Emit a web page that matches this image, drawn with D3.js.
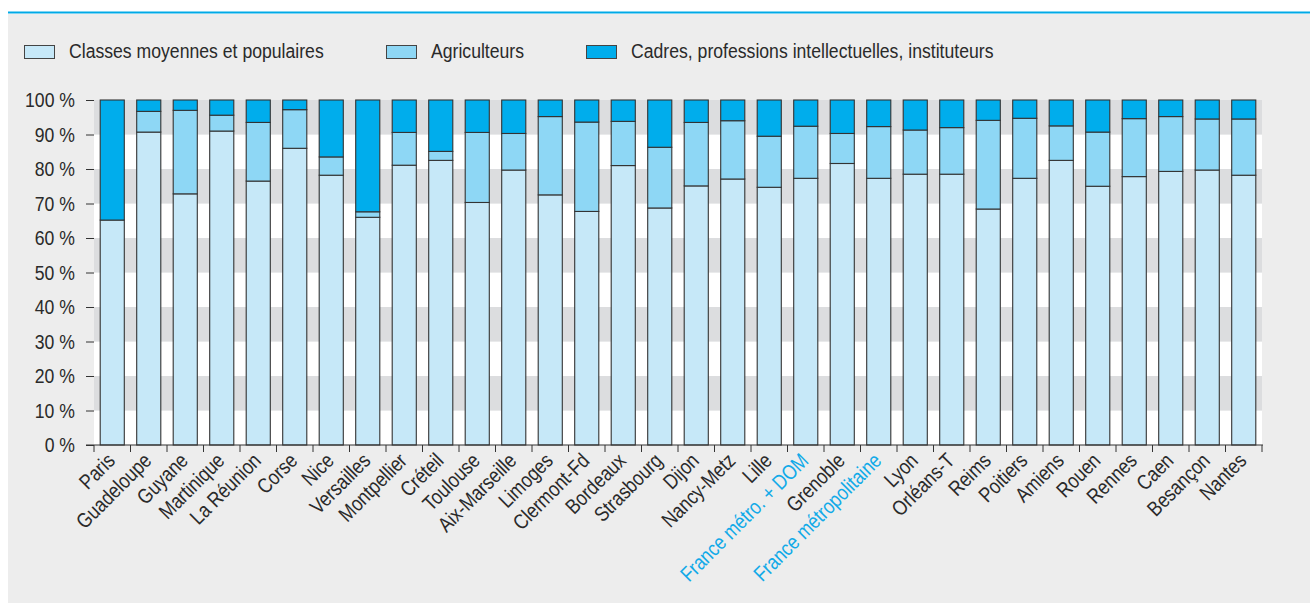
<!DOCTYPE html>
<html>
<head>
<meta charset="utf-8">
<script src="https://cdn.jsdelivr.net/npm/d3@7"></script>
<style>
  body { margin: 0; background: #fff; }
  svg { display: block; font-family: "Liberation Sans", Arial, sans-serif; }
</style>
</head>
<body>
<div id="chart"></div>
<script>
// données (en %)
const academies = ["Paris", "Guadeloupe", "Guyane", "Martinique", "La Réunion", "Corse", "Nice", "Versailles",
  "Montpellier", "Créteil", "Toulouse", "Aix-Marseille", "Limoges", "Clermont-Fd", "Bordeaux", "Strasbourg",
  "Dijon", "Nancy-Metz", "Lille", "France métro. + DOM", "Grenoble", "France métropolitaine", "Lyon", "Orléans-T",
  "Reims", "Poitiers", "Amiens", "Rouen", "Rennes", "Caen", "Besançon", "Nantes"];
const classesMoyennes = [65.2, 90.7, 72.8, 91.0, 76.5, 86.0, 78.2, 66.0,
  81.1, 82.5, 70.3, 79.7, 72.5, 67.7, 81.0, 68.7,
  75.1, 77.1, 74.7, 77.3, 81.6, 77.3, 78.5, 78.5,
  68.4, 77.3, 82.5, 75.0, 77.8, 79.3, 79.7, 78.2];
const agriculteurs = [0, 6.0, 24.2, 4.6, 17.0, 11.2, 5.3, 1.6,
  9.5, 2.6, 20.3, 10.6, 22.7, 25.9, 12.8, 17.6,
  18.4, 16.9, 14.8, 15.1, 8.7, 15.0, 12.8, 13.5,
  25.7, 17.4, 10.0, 15.7, 16.8, 15.9, 14.8, 16.3];
const series = ["Classes moyennes et populaires", "Agriculteurs", "Cadres, professions intellectuelles, instituteurs"];
const yTicks = [0, 10, 20, 30, 40, 50, 60, 70, 80, 90, 100];
const enBleu = ["France métro. + DOM", "France métropolitaine"];

const colors = ["#c6e8f8", "#8ed7f5", "#00adec"];

const width = 1310, height = 603;
const fs = 21, narrow = 0.84; // police condensée simulée

const svg = d3.select("#chart").append("svg")
  .attr("width", width)
  .attr("height", height);

// fond
svg.append("rect").attr("x", 8).attr("y", 14).attr("width", width - 8).attr("height", height - 14)
  .attr("fill", "#ededed");
svg.append("line").attr("x1", 8).attr("x2", width).attr("y1", 12.5).attr("y2", 12.5)
  .attr("stroke", "#00a9e6").attr("stroke-width", 2);

// légende
const legendX = [24, 386, 586];
series.forEach((s, i) => {
  const g = svg.append("g").attr("transform", `translate(${legendX[i]},45)`);
  g.append("rect").attr("x", 0.5).attr("y", 0.5).attr("width", 30).attr("height", 13)
    .attr("fill", colors[i]).attr("stroke", "#444").attr("stroke-width", 1);
  g.append("text").attr("transform", `translate(45,13) scale(${narrow},1)`)
    .attr("font-size", fs).attr("fill", "#2a2a2a").text(s);
});

// échelles
const x = d3.scaleBand().domain(academies).range([94, 1262]).paddingInner(0.34).paddingOuter(0.17);
const y = d3.scaleLinear().domain([0, 100]).range([445, 100]);

// bandes grises
svg.append("g").selectAll("rect")
  .data(yTicks.slice(0, -1))
  .join("rect")
  .attr("x", 94)
  .attr("width", 1262 - 94)
  .attr("y", d => y(d + 10))
  .attr("height", d => y(d) - y(d + 10))
  .attr("fill", d => (d / 10) % 2 === 1 ? "#dcdddf" : "#ffffff");

// empilement
const rows = academies.map((a, i) => ({
  academie: a,
  c: classesMoyennes[i],
  a: agriculteurs[i],
  k: 100 - classesMoyennes[i] - agriculteurs[i]
}));
const stack = d3.stack().keys(["c", "a", "k"])(rows);

svg.append("g").selectAll("g")
  .data(stack)
  .join("g")
  .attr("fill", (d, i) => colors[i])
  .selectAll("rect")
  .data(d => d)
  .join("rect")
  .attr("x", d => x(d.data.academie))
  .attr("width", x.bandwidth())
  .attr("y", d => y(d[1]))
  .attr("height", d => y(d[0]) - y(d[1]))
  .attr("stroke", "#333")
  .attr("stroke-width", 1.1);

// axe y
const yAxis = svg.append("g")
  .attr("transform", "translate(94,0)")
  .call(d3.axisLeft(y).tickValues(yTicks).tickSize(8).tickPadding(11).tickFormat(d => d + " %"));
yAxis.attr("font-family", null).attr("font-size", null);
yAxis.select(".domain").remove();
yAxis.selectAll("line").attr("stroke", "#333");
yAxis.selectAll("text")
  .attr("x", null).attr("dy", null)
  .attr("transform", `translate(-19,6.5) scale(${narrow},1)`)
  .attr("font-size", fs).attr("fill", "#2a2a2a");

// axe x : ligne et graduations entre les barres
const gap = (x.step() - x.bandwidth()) / 2;
const bornes = academies.map(a => x(a) - gap).concat([x(academies[academies.length - 1]) + x.bandwidth() + gap]);
svg.append("line").attr("x1", 86).attr("x2", 1263).attr("y1", 445).attr("y2", 445)
  .attr("stroke", "#333").attr("stroke-width", 1.2);
svg.append("g").selectAll("line")
  .data(bornes)
  .join("line")
  .attr("x1", d => d).attr("x2", d => d)
  .attr("y1", 445).attr("y2", 452)
  .attr("stroke", "#333");

svg.append("g").selectAll("text")
  .data(academies)
  .join("text")
  .attr("transform", d => `translate(${x(d) + x.bandwidth() / 2 + 4},462) rotate(-45) scale(${narrow},1)`)
  .attr("text-anchor", "end")
  .attr("font-size", fs)
  .attr("fill", d => enBleu.includes(d) ? "#12aae8" : "#2a2a2a")
  .text(d => d);
</script>
</body>
</html>
